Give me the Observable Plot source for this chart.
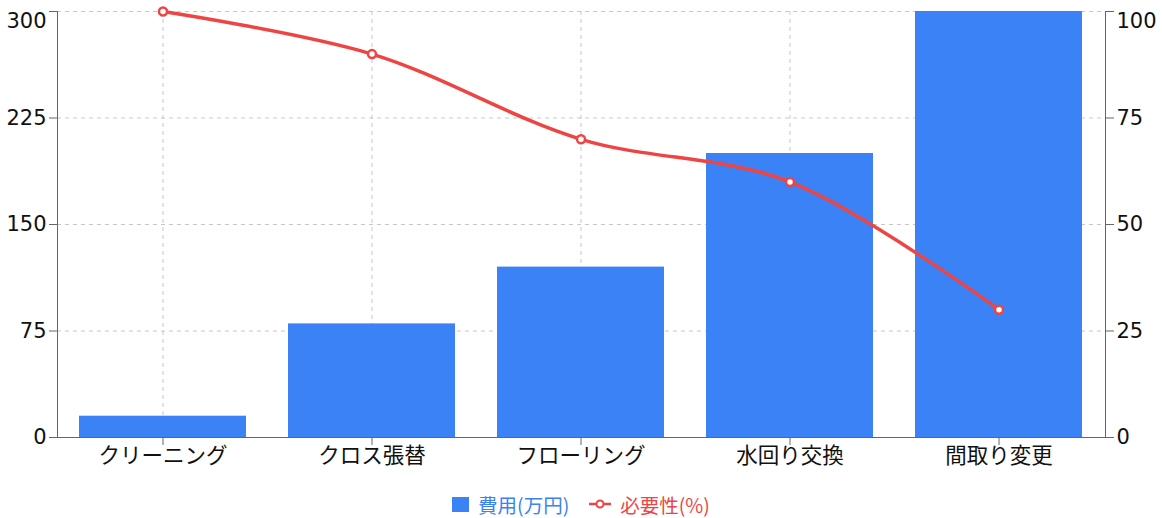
<!DOCTYPE html>
<html><head><meta charset="utf-8">
<script src="https://cdn.jsdelivr.net/npm/d3@7"></script>
<script src="https://cdn.jsdelivr.net/npm/@observablehq/plot@0.6"></script>
<style>
body{margin:0;background:#fff;font-family:"DejaVu Sans","Noto Sans CJK JP",sans-serif;overflow:hidden;}
#chart svg{display:block;}
#legend{display:flex;justify-content:center;align-items:center;gap:20px;height:28px;margin-top:8px;font-size:19.5px;font-family:"Noto Sans CJK JP",sans-serif;}
.item{display:flex;align-items:center;gap:9px;}
</style></head>
<body><div id="chart"></div><div id="legend"></div>
<script>
const categories = ["クリーニング","クロス張替","フローリング","水回り交換","間取り変更"];
const costs = [15, 80, 120, 200, 300];
const necessity = [100, 90, 70, 60, 30];
const leftTicks = [0, 75, 150, 225, 300];
const rightTicks = [0, 25, 50, 75, 100];
const costLabel = "費用(万円)";
const needLabel = "必要性(%)";
const blue = "#3b82f6", red = "#ef4444";
const ratio = 300 / 100;

const data = categories.map((c, i) => ({cat: c, cost: costs[i], need: necessity[i]}));
const rightScaled = rightTicks.map(d => d * ratio);
const topL = leftTicks[leftTicks.length - 1], topR = rightScaled[rightScaled.length - 1];

const plot = Plot.plot({
  width: 1162, height: 482,
  marginLeft: 57, marginRight: 57, marginTop: 11, marginBottom: 45,
  style: {fontFamily: '"DejaVu Sans", "Noto Sans CJK JP", sans-serif', fontSize: "21px", color: "#111"},
  x: {domain: categories, paddingInner: 0.2, paddingOuter: 0.1, label: null},
  y: {domain: [0, 300], label: null},
  marks: [
    Plot.gridY({ticks: leftTicks.filter(d => d > 0), stroke: "#c8c8c8", strokeOpacity: 1, strokeDasharray: "4,4"}),
    Plot.gridX({stroke: "#c8c8c8", strokeOpacity: 1, strokeDasharray: "4,4"}),
    Plot.barY(data, {x: "cat", y: "cost", fill: blue}),
    Plot.frame({anchor: "left", stroke: "#666"}),
    Plot.frame({anchor: "right", stroke: "#666"}),
    Plot.frame({anchor: "bottom", stroke: "#666"}),
    Plot.axisY({anchor: "left", ticks: leftTicks, tickSize: 8, stroke: "#666", tickFormat: null, text: null, label: null}),
    Plot.axisY({anchor: "left", ticks: leftTicks.filter(d => d !== topL), tickSize: 8, tickPadding: 3, stroke: null, label: null}),
    Plot.axisY({anchor: "left", ticks: [topL], tickSize: 8, tickPadding: 3, stroke: null, dy: 10, label: null}),
    Plot.axisY({anchor: "right", ticks: rightScaled, tickSize: 8, stroke: "#666", tickFormat: null, text: null, label: null}),
    Plot.axisY({anchor: "right", ticks: rightScaled.filter(d => d !== topR), tickFormat: d => d / ratio, tickSize: 8, tickPadding: 3, stroke: null, label: null}),
    Plot.axisY({anchor: "right", ticks: [topR], tickFormat: d => d / ratio, tickSize: 8, tickPadding: 3, stroke: null, dy: 10, label: null}),
    Plot.axisX({tickSize: 8, tickPadding: 2, stroke: "#666", label: null, fontSize: 21.5, fontFamily: '"Noto Sans CJK JP", sans-serif'}),
    Plot.line(data, {x: "cat", y: d => d.need * ratio, stroke: red, strokeWidth: 3.5, curve: "catmull-rom"}),
    Plot.dot(data, {x: "cat", y: d => d.need * ratio, r: 4, fill: "#fff", stroke: red, strokeWidth: 2.5})
  ]
});
document.getElementById("chart").appendChild(plot);

document.getElementById("legend").innerHTML =
  `<div class="item" style="color:${blue}"><svg width="17" height="15"><rect width="17" height="15" fill="${blue}"/></svg>${costLabel}</div>` +
  `<div class="item" style="color:${red}"><svg width="22" height="12"><line x1="0" y1="6" x2="22" y2="6" stroke="${red}" stroke-width="2.5"/><circle cx="11" cy="6" r="3.5" fill="#fff" stroke="${red}" stroke-width="2"/></svg>${needLabel}</div>`;
</script></body></html>
